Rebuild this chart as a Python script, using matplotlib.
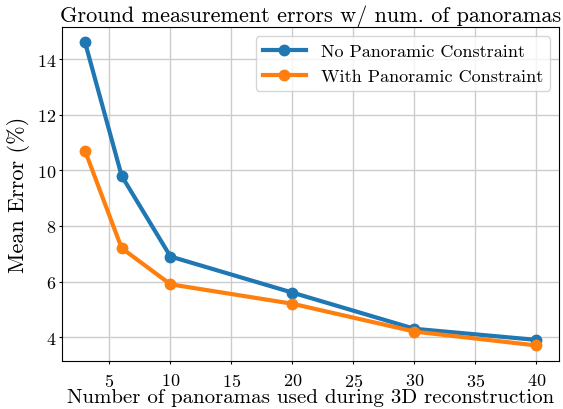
import matplotlib
matplotlib.use("Agg")
import matplotlib.pyplot as plt

plt.rcParams['font.family'] = 'serif'
plt.rcParams['font.serif'] = ['cmr10', 'DejaVu Serif']
plt.rcParams['mathtext.fontset'] = 'cm'
plt.rcParams['axes.formatter.use_mathtext'] = True

num_panoramas = [3, 6, 10, 20, 30, 40]
no_constraint = [14.6, 9.8, 6.9, 5.6, 4.3, 3.9]
with_constraint = [10.7, 7.2, 5.9, 5.2, 4.2, 3.7]

fig, ax = plt.subplots(figsize=(5.63, 4.10), dpi=100)
ax.plot(num_panoramas, no_constraint, marker='o', color='#1f77b4', linewidth=3, markersize=7.5,
        label='No Panoramic Constraint')
ax.plot(num_panoramas, with_constraint, marker='o', color='#ff7f0e', linewidth=3, markersize=7.5,
        label='With Panoramic Constraint')

ax.set_title('Ground measurement errors w/ num. of panoramas', fontsize=16, pad=3)
ax.set_xlabel('Number of panoramas used during 3D reconstruction', fontsize=15, labelpad=-1)
ax.set_ylabel('Mean Error (%)', fontsize=16, labelpad=5)
ax.tick_params(labelsize=13, length=2.5)
ax.tick_params(axis='x', pad=6)
ax.tick_params(axis='y', pad=2)
ax.grid(True, color='#cccccc', linewidth=1)
ax.set_axisbelow(True)
ax.legend(loc='upper right', fontsize=13, handlelength=2.4, borderaxespad=0.5)

fig.subplots_adjust(left=0.111, right=0.993, top=0.931, bottom=0.118)
fig.savefig('out.png', dpi=100)
